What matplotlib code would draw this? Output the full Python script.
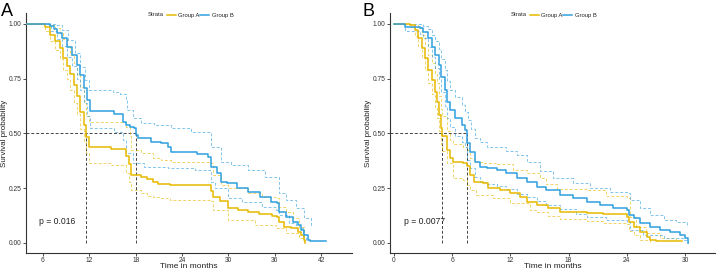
import matplotlib
matplotlib.use("Agg")
import matplotlib.pyplot as plt
from matplotlib.lines import Line2D
import numpy as np

plt.rcParams['font.family'] = ['Liberation Sans', 'DejaVu Sans']

GOLD = "#E7B800"
BLUE = "#2E9FDF"

# ---------------- Panel A ----------------
a_gold_t = [0, 6.3, 6.9, 7.5, 8.2, 8.6, 9.1, 9.5, 10.0, 10.4, 10.8, 11.3, 11.6, 12.0, 14.8, 16.8, 17.1, 17.4, 18.7, 19.5, 20.3, 20.9, 22.5, 27.7, 28.0, 28.9, 30.0, 31.3, 32.6, 33.9, 35.7, 36.3, 36.5, 37.2, 38.1, 39.0, 39.4, 39.8, 39.9]
a_gold_s = [1.0, 0.985, 0.95, 0.92, 0.89, 0.845, 0.81, 0.77, 0.72, 0.67, 0.60, 0.54, 0.485, 0.44, 0.43, 0.395, 0.36, 0.31, 0.30, 0.29, 0.28, 0.27, 0.265, 0.235, 0.21, 0.19, 0.158, 0.151, 0.139, 0.132, 0.123, 0.117, 0.097, 0.075, 0.067, 0.052, 0.037, 0.014, 0.0]
a_gold_up_t = [0, 7.0, 7.5, 8.2, 8.6, 9.1, 9.5, 10.0, 10.4, 10.8, 11.3, 11.6, 12.0, 16.7, 17.2, 17.4, 18.7, 20.3, 21.3, 22.6, 27.7, 28.0, 29.1, 30.0, 32.6, 34.3, 36.1, 36.5, 37.4, 38.3, 39.1, 39.8]
a_gold_up_s = [1.0, 0.995, 0.98, 0.96, 0.93, 0.90, 0.86, 0.82, 0.77, 0.71, 0.65, 0.58, 0.554, 0.53, 0.49, 0.425, 0.41, 0.39, 0.38, 0.371, 0.364, 0.31, 0.265, 0.25, 0.227, 0.211, 0.204, 0.166, 0.143, 0.113, 0.075, 0.02]
a_gold_lo_t = [0, 6.3, 6.9, 7.5, 8.2, 8.6, 9.1, 9.5, 10.0, 10.4, 10.8, 11.3, 11.6, 12.0, 14.8, 16.8, 17.1, 17.4, 18.7, 19.5, 20.3, 21.3, 22.5, 27.7, 28.0, 30.0, 33.5, 36.1, 37.4, 39.1, 39.8]
a_gold_lo_s = [1.0, 0.97, 0.92, 0.88, 0.84, 0.79, 0.75, 0.70, 0.64, 0.59, 0.52, 0.46, 0.41, 0.364, 0.355, 0.32, 0.28, 0.242, 0.23, 0.215, 0.21, 0.204, 0.196, 0.19, 0.15, 0.105, 0.082, 0.067, 0.044, 0.021, 0.005]

a_blue_t = [0, 6.9, 7.4, 7.8, 8.4, 9.1, 9.75, 10.4, 10.8, 11.3, 11.7, 12.1, 15.2, 16.4, 16.7, 17.2, 17.8, 18.0, 18.3, 20.0, 21.3, 22.2, 22.6, 25.9, 27.4, 27.8, 28.5, 29.1, 29.8, 31.1, 32.6, 34.1, 35.5, 36.3, 36.5, 37.4, 38.3, 39.0, 39.4, 39.8, 40.3, 40.6, 42.6]
a_blue_s = [1.0, 0.99, 0.975, 0.957, 0.935, 0.896, 0.858, 0.813, 0.767, 0.706, 0.653, 0.604, 0.589, 0.554, 0.539, 0.53, 0.524, 0.493, 0.478, 0.463, 0.455, 0.44, 0.417, 0.406, 0.394, 0.348, 0.318, 0.28, 0.272, 0.25, 0.234, 0.211, 0.189, 0.181, 0.143, 0.117, 0.097, 0.082, 0.059, 0.037, 0.014, 0.01, 0.01]
a_blue_up_t = [0, 7.6, 8.4, 9.3, 10.2, 10.8, 11.4, 11.9, 15.1, 16.0, 16.7, 16.9, 17.6, 18.7, 20.4, 22.6, 25.2, 27.7, 27.8, 29.1, 30.4, 32.6, 34.8, 36.5, 37.4, 38.7, 39.8, 40.7]
a_blue_up_s = [1.0, 0.995, 0.973, 0.927, 0.866, 0.805, 0.744, 0.70, 0.69, 0.68, 0.653, 0.607, 0.569, 0.547, 0.539, 0.524, 0.508, 0.48, 0.44, 0.371, 0.356, 0.333, 0.303, 0.227, 0.196, 0.158, 0.113, 0.075]
a_blue_lo_t = [0, 7.0, 7.8, 8.4, 9.1, 9.75, 10.4, 10.8, 11.3, 11.7, 12.1, 15.2, 16.4, 16.7, 17.6, 19.1, 22.2, 25.7, 27.6, 27.8, 28.3, 30.0, 31.7, 34.4, 36.1, 36.5, 37.8, 38.7, 39.6, 40.0]
a_blue_lo_s = [1.0, 0.97, 0.93, 0.90, 0.85, 0.81, 0.75, 0.70, 0.64, 0.58, 0.525, 0.505, 0.47, 0.41, 0.364, 0.348, 0.341, 0.333, 0.326, 0.28, 0.25, 0.204, 0.189, 0.166, 0.151, 0.128, 0.09, 0.067, 0.029, 0.005]

# ---------------- Panel B ----------------
b_gold_t = [0, 1.65, 2.2, 2.5, 2.85, 3.2, 3.5, 3.9, 4.2, 4.4, 4.67, 4.9, 5.0, 5.43, 5.8, 6.1, 7.15, 7.5, 7.8, 8.2, 9.2, 9.7, 10.9, 11.96, 13.0, 13.7, 14.7, 15.9, 17.1, 19.9, 21.6, 24.0, 24.2, 24.7, 25.4, 26.1, 26.4, 27.0, 29.7]
b_gold_s = [1.0, 0.995, 0.973, 0.935, 0.889, 0.843, 0.79, 0.744, 0.69, 0.645, 0.584, 0.524, 0.49, 0.425, 0.39, 0.371, 0.364, 0.35, 0.31, 0.28, 0.272, 0.25, 0.242, 0.227, 0.211, 0.189, 0.174, 0.158, 0.143, 0.136, 0.13, 0.12, 0.097, 0.075, 0.052, 0.029, 0.014, 0.007, 0.007]
b_gold_up_t = [0, 2.2, 2.5, 2.85, 3.2, 3.5, 3.9, 4.2, 4.4, 4.67, 4.9, 5.0, 5.43, 5.8, 6.1, 7.15, 7.5, 7.8, 8.2, 9.2, 10.6, 12.3, 13.7, 15.05, 15.7, 16.8, 20.0, 21.9, 24.0, 24.3, 25.0, 26.0, 27.4, 29.1]
b_gold_up_s = [1.0, 0.995, 0.98, 0.95, 0.91, 0.86, 0.82, 0.77, 0.73, 0.67, 0.61, 0.58, 0.51, 0.47, 0.45, 0.44, 0.425, 0.39, 0.371, 0.365, 0.36, 0.333, 0.318, 0.295, 0.27, 0.245, 0.24, 0.215, 0.204, 0.12, 0.075, 0.044, 0.021, 0.014]
b_gold_lo_t = [0, 1.65, 2.2, 2.5, 2.85, 3.2, 3.5, 3.9, 4.2, 4.4, 4.67, 4.9, 5.0, 5.43, 6.1, 7.15, 7.5, 7.8, 8.5, 10.2, 12.0, 14.0, 14.7, 15.9, 17.1, 19.9, 21.6, 24.0, 24.2, 24.7, 25.4, 26.4]
b_gold_lo_s = [1.0, 0.985, 0.945, 0.90, 0.845, 0.79, 0.73, 0.68, 0.62, 0.57, 0.51, 0.45, 0.42, 0.364, 0.295, 0.288, 0.265, 0.242, 0.219, 0.204, 0.181, 0.15, 0.14, 0.125, 0.11, 0.1, 0.092, 0.085, 0.055, 0.035, 0.015, 0.003]

b_blue_t = [0, 1.1, 2.7, 3.0, 3.5, 3.9, 4.2, 4.6, 4.9, 5.26, 5.5, 5.77, 6.3, 6.98, 7.35, 7.5, 7.8, 8.35, 8.87, 9.56, 10.6, 11.6, 12.65, 13.7, 14.7, 15.7, 17.1, 18.5, 19.9, 21.2, 22.6, 24.0, 24.2, 24.7, 25.4, 26.4, 27.4, 28.5, 29.5, 30.0, 30.3]
b_blue_s = [1.0, 0.988, 0.98, 0.965, 0.935, 0.896, 0.858, 0.813, 0.76, 0.70, 0.645, 0.607, 0.569, 0.539, 0.516, 0.455, 0.417, 0.371, 0.348, 0.34, 0.333, 0.318, 0.295, 0.28, 0.257, 0.242, 0.219, 0.204, 0.189, 0.174, 0.158, 0.151, 0.128, 0.113, 0.09, 0.075, 0.059, 0.052, 0.037, 0.021, 0.0]
b_blue_up_t = [0, 3.0, 3.5, 3.9, 4.2, 4.6, 4.9, 5.26, 5.5, 5.77, 6.3, 6.98, 7.35, 7.6, 7.9, 8.35, 8.87, 9.56, 11.6, 12.65, 13.7, 15.05, 16.4, 18.5, 20.2, 22.3, 24.0, 24.3, 25.4, 26.4, 27.8, 29.1, 30.2]
b_blue_up_s = [1.0, 0.99, 0.975, 0.95, 0.92, 0.885, 0.84, 0.79, 0.74, 0.70, 0.665, 0.63, 0.60, 0.56, 0.52, 0.48, 0.46, 0.44, 0.418, 0.40, 0.37, 0.33, 0.295, 0.272, 0.25, 0.234, 0.227, 0.196, 0.158, 0.128, 0.105, 0.097, 0.075]
b_blue_lo_t = [0, 1.1, 2.7, 3.0, 3.5, 3.9, 4.2, 4.6, 4.9, 5.26, 5.5, 5.77, 6.3, 6.98, 7.35, 7.5, 7.8, 8.35, 8.87, 9.56, 10.6, 11.6, 12.65, 13.7, 14.7, 15.7, 17.1, 18.8, 19.9, 21.9, 24.0, 24.3, 25.7, 27.8, 29.8, 30.3]
b_blue_lo_s = [1.0, 0.97, 0.955, 0.935, 0.895, 0.85, 0.80, 0.75, 0.69, 0.625, 0.57, 0.53, 0.49, 0.46, 0.44, 0.38, 0.34, 0.30, 0.28, 0.27, 0.26, 0.245, 0.225, 0.21, 0.19, 0.175, 0.155, 0.13, 0.12, 0.105, 0.097, 0.06, 0.037, 0.021, 0.014, 0.0]

groups = ["Group A", "Group B"]
p_values = ["p = 0.016", "p = 0.0077"]
a_xticks = [6, 12, 18, 24, 30, 36, 42]
b_xticks = [0, 6, 12, 18, 24, 30]
yticks = [0.0, 0.25, 0.5, 0.75, 1.0]

W, H = 720, 273
fig = plt.figure(figsize=(W / 100, H / 100), dpi=100)


def px_box(l, t, r, b):
    return [l / W, 1 - b / H, (r - l) / W, (b - t) / H]


def median(t, s):
    for ti, si in zip(t, s):
        if si <= 0.5:
            return ti
    return None


def panel(box, curves, xlim, xticks, ptext, px, label, lx, ylab_x):
    l, t, r, b = box
    ax = fig.add_axes(px_box(l, t, r, b))
    aw, ah = r - l, b - t
    for (tt, s, col, ls) in curves:
        if ls == "-":
            ax.step(tt, s, where="post", color=col, lw=1.1, zorder=3)
        else:
            ax.step(tt, s, where="post", color=col, lw=0.7, alpha=0.6, ls=(0, (3, 2)), zorder=2)
    meds = [median(c[0], c[1]) for c in curves if c[3] == "-"]
    ax.plot([xlim[0], max(meds)], [0.5, 0.5], color="#444444", lw=0.7, ls=(0, (3, 2)), zorder=1)
    for m in meds:
        ax.plot([m, m], [0, 0.5], color="#444444", lw=0.7, ls=(0, (3, 2)), zorder=1)
    ax.set_xlim(*xlim)
    ax.set_ylim(-0.046, 1.05)
    ax.set_xticks(xticks)
    ax.set_xticklabels([str(x) for x in xticks])
    ax.set_yticks(yticks)
    ax.set_yticklabels(["%.2f" % y for y in yticks])
    for sp in ["top", "right"]:
        ax.spines[sp].set_visible(False)
    for sp in ["left", "bottom"]:
        ax.spines[sp].set_color("#333333")
        ax.spines[sp].set_linewidth(0.8)
    ax.tick_params(axis="both", labelsize=4.8, length=2.0, width=0.6, color="#333333",
                   labelcolor="#333333", pad=1.2)
    ax.set_xlabel("Time in months", fontsize=6.0, color="#222222")
    ax.set_ylabel("Survival probability", fontsize=5.8, color="#222222")
    ax.xaxis.set_label_coords(0.5, -(267 - b) / ah)
    ax.yaxis.set_label_coords(-(l - ylab_x) / aw, 0.5)
    ax.xaxis.label.set_va("center")
    ax.yaxis.label.set_va("center")
    ax.text(px, 0.1, ptext, fontsize=6.2, color="#222222", va="center", ha="left")
    fig.text(lx / W, 1 - 3 / H, label, fontsize=13, va="top", ha="left")
    return ax


panel((26, 13, 352, 253),
      [(a_gold_lo_t, a_gold_lo_s, GOLD, "--"), (a_gold_up_t, a_gold_up_s, GOLD, "--"),
       (a_blue_lo_t, a_blue_lo_s, BLUE, "--"), (a_blue_up_t, a_blue_up_s, BLUE, "--"),
       (a_gold_t, a_gold_s, GOLD, "-"), (a_blue_t, a_blue_s, BLUE, "-")],
      (3.8, 46.0), a_xticks, p_values[0], 5.5, "A", 1, 5.0)

panel((390, 13, 715, 253),
      [(b_gold_lo_t, b_gold_lo_s, GOLD, "--"), (b_gold_up_t, b_gold_up_s, GOLD, "--"),
       (b_blue_lo_t, b_blue_lo_s, BLUE, "--"), (b_blue_up_t, b_blue_up_s, BLUE, "--"),
       (b_gold_t, b_gold_s, GOLD, "-"), (b_blue_t, b_blue_s, BLUE, "-")],
      (-0.41, 33.1), b_xticks, p_values[1], 1.0, "B", 363, 369.0)


def legend(x0):
    y = 1 - 15 / H
    fig.text(x0 / W, y, "Strata", fontsize=4.2, va="center", ha="left", color="#222222")
    offs = [(19, 30), (52, 64)]
    for g, col, (lo, to) in zip(groups, [GOLD, BLUE], offs):
        fig.add_artist(Line2D([(x0 + lo) / W, (x0 + lo + 9) / W], [y, y], color=col, lw=1.1))
        fig.text((x0 + to) / W, y, g, fontsize=4.2, va="center", ha="left", color="#222222")


legend(148)
legend(511)

fig.savefig("out.png", dpi=100)
